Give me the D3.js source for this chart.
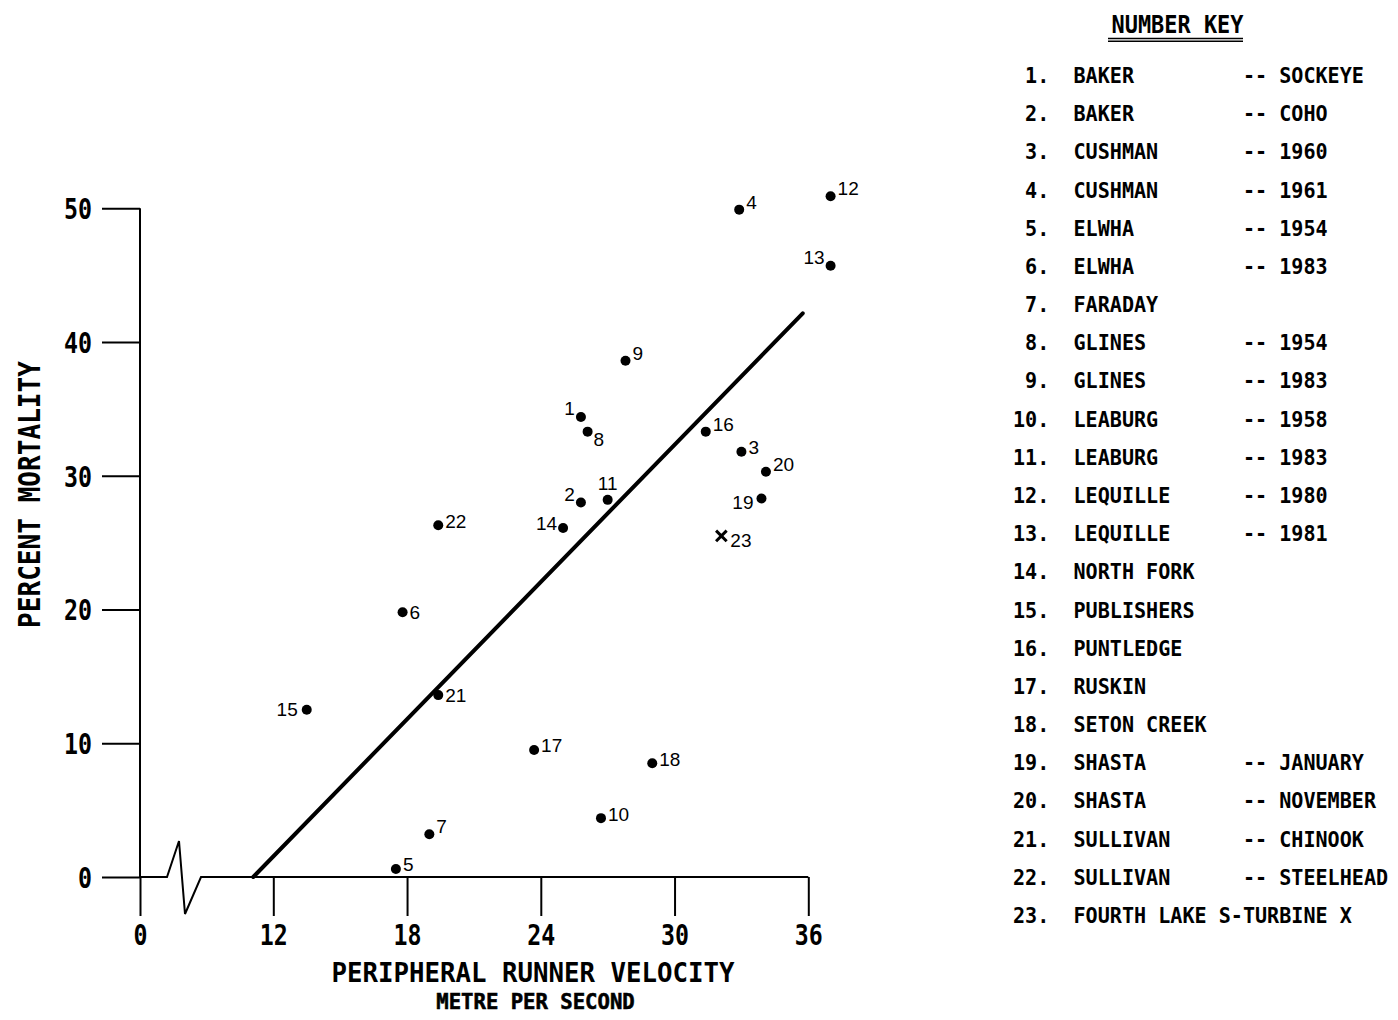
<!DOCTYPE html>
<html>
<head>
<meta charset="utf-8">
<script src="https://cdn.jsdelivr.net/npm/d3@7"></script>
<style>
  body { margin: 0; background: #fff; }
  svg { display: block; }
  .plot { font-family: "DejaVu Sans Mono", monospace; font-weight: bold; fill: #000; }
  .lbl { font-family: "Liberation Sans", Arial, sans-serif; font-size: 19px; fill: #000; }
</style>
</head>
<body>
<svg width="1398" height="1020"></svg>
<script>
// site number, runner velocity (m/s), percent mortality
var siteIds = [1, 2, 3, 4, 5, 6, 7, 8, 9, 10, 11, 12, 13, 14, 15, 16, 17, 18, 19, 20, 21, 22, 23];
var velocity = [25.8, 25.8, 33.0, 32.9, 17.5, 17.8, 19.0, 26.1, 27.8, 26.7, 27.0, 37.0, 37.0, 25.0, 13.5, 31.4, 23.7, 29.0, 33.9, 34.1, 19.4, 19.4, 32.1];
var mortality = [34.4, 28.0, 31.8, 49.9, 0.6, 19.8, 3.2, 33.3, 38.6, 4.4, 28.2, 50.9, 45.7, 26.1, 12.5, 33.3, 9.5, 8.5, 28.3, 30.3, 13.6, 26.3, 25.5];
var markers = ["dot", "dot", "dot", "dot", "dot", "dot", "dot", "dot", "dot", "dot", "dot", "dot", "dot", "dot", "dot", "dot", "dot", "dot", "dot", "dot", "dot", "dot", "x"];

// fitted line end points
var fitVelocity = [11.1, 35.75];
var fitMortality = [0, 42.15];

var xTicks = [0, 12, 18, 24, 30, 36];
var yTicks = [0, 10, 20, 30, 40, 50];

var plantNames = ["BAKER", "BAKER", "CUSHMAN", "CUSHMAN", "ELWHA", "ELWHA", "FARADAY", "GLINES", "GLINES", "LEABURG", "LEABURG", "LEQUILLE", "LEQUILLE", "NORTH FORK", "PUBLISHERS", "PUNTLEDGE", "RUSKIN", "SETON CREEK", "SHASTA", "SHASTA", "SULLIVAN", "SULLIVAN", "FOURTH LAKE S-TURBINE X"];
var plantNotes = ["SOCKEYE", "COHO", "1960", "1961", "1954", "1983", "", "1954", "1983", "1958", "1983", "1980", "1981", "", "", "", "", "", "JANUARY", "NOVEMBER", "CHINOOK", "STEELHEAD", ""];

// where each number sits next to its point (default: right)
var labelSide = {1: "ul", 2: "ul", 4: "ur", 6: "r0", 7: "ur", 8: "dr", 9: "ur", 11: "u", 12: "ur",
                 13: "ul", 14: "l", 15: "l0", 16: "ur", 19: "dl", 20: "ur", 21: "r0", 23: "xr"};
var sideOffset = {
  r:  [7, 2.5, "start"], ur: [7, -1, "start"], r0: [7, 6.5, "start"],
  l:  [-6, 2.5, "end"], ul: [-6, -1.5, "end"], l0: [-9, 6, "end"], dl: [-8, 10.5, "end"],
  u:  [0, -10, "middle"], dr: [6, 14.5, "start"], xr: [9, 11.5, "start"]
};

var svg = d3.select("svg");

var y0 = 877;
var y = d3.scaleLinear().domain([0, 50]).range([y0, 208.3]);
var x = d3.scaleLinear().domain([12, 36]).range([273.3, 808.3]);
// axis scale with the broken stretch between 0 and 12
var xAxisScale = d3.scaleLinear().domain([0, 12, 36]).range([140, 273.3, 808.3]);

// squeeze the plotter lettering to its measured width
function squeeze(sel, charW) {
  sel.each(function() {
    var t = d3.select(this);
    t.attr("textLength", t.text().length * charW).attr("lengthAdjust", "spacingAndGlyphs");
  });
}

// y axis
var gy = svg.append("g")
    .attr("transform", "translate(" + xAxisScale(0) + ",0)")
    .call(d3.axisLeft(y).tickValues(yTicks).tickSize(38).tickSizeOuter(0).tickPadding(10));
gy.select(".domain").remove();
gy.selectAll(".tick line").attr("stroke", "#000").attr("stroke-width", 2);
gy.selectAll(".tick text")
    .attr("class", "plot")
    .style("font-size", "29px")
    .attr("dy", "0.36em")
    .call(squeeze, 14);

svg.append("line")
    .attr("x1", xAxisScale(0)).attr("x2", xAxisScale(0))
    .attr("y1", y(50)).attr("y2", y0)
    .attr("stroke", "#000").attr("stroke-width", 2);

// x axis
var gx = svg.append("g")
    .attr("transform", "translate(0," + y0 + ")")
    .call(d3.axisBottom(xAxisScale).tickValues(xTicks).tickSize(39).tickSizeOuter(0).tickPadding(8));
gx.select(".domain").remove();
gx.selectAll(".tick line").attr("stroke", "#000").attr("stroke-width", 2);
gx.selectAll(".tick text")
    .attr("class", "plot")
    .style("font-size", "29px")
    .call(squeeze, 14);

// axis line with the zig-zag break
var bx = xAxisScale(0);
gx.append("path")
    .attr("d", d3.line()([[bx, 0], [bx + 27, 0], [bx + 39, -36], [bx + 45, 37], [bx + 61, 0], [xAxisScale(36), 0]]))
    .attr("fill", "none")
    .attr("stroke", "#000")
    .attr("stroke-width", 2)
    .attr("stroke-linejoin", "miter");

// axis titles
svg.append("text")
    .attr("class", "plot")
    .attr("x", 533).attr("y", 982)
    .attr("text-anchor", "middle")
    .style("font-size", "26.5px")
    .text("PERIPHERAL RUNNER VELOCITY")
    .call(squeeze, 15.5);

svg.append("text")
    .attr("class", "plot")
    .attr("x", 535.5).attr("y", 1009)
    .attr("text-anchor", "middle")
    .style("font-size", "22px")
    .style("stroke", "#000").style("stroke-width", 0.6)
    .text("METRE PER SECOND")
    .call(squeeze, 12.4);

svg.append("text")
    .attr("class", "plot")
    .attr("transform", "translate(40,494.5) rotate(-90)")
    .attr("text-anchor", "middle")
    .style("font-size", "29.5px")
    .text("PERCENT MORTALITY")
    .call(squeeze, 15.7);

// fitted line
svg.append("path")
    .datum(d3.zip(fitVelocity, fitMortality))
    .attr("fill", "none")
    .attr("stroke", "#000")
    .attr("stroke-width", 4)
    .attr("stroke-linecap", "round")
    .attr("d", d3.line().x(function(d) { return x(d[0]); }).y(function(d) { return y(d[1]); }));

// points
var pts = siteIds.map(function(id, i) {
  return {id: id, v: velocity[i], m: mortality[i], marker: markers[i]};
});

var pg = svg.append("g");
pg.selectAll("circle")
    .data(pts.filter(function(d) { return d.marker === "dot"; }))
  .enter().append("circle")
    .attr("cx", function(d) { return x(d.v); })
    .attr("cy", function(d) { return y(d.m); })
    .attr("r", 5)
    .attr("fill", "#000");

pg.selectAll("path.xmark")
    .data(pts.filter(function(d) { return d.marker === "x"; }))
  .enter().append("path")
    .attr("class", "xmark")
    .attr("transform", function(d) { return "translate(" + x(d.v) + "," + y(d.m) + ")"; })
    .attr("d", d3.symbol().type(d3.symbolX).size(75))
    .attr("fill", "none")
    .attr("stroke", "#000")
    .attr("stroke-width", 3);

pg.selectAll("text")
    .data(pts)
  .enter().append("text")
    .attr("class", "lbl")
    .attr("x", function(d) { return x(d.v) + sideOffset[labelSide[d.id] || "r"][0]; })
    .attr("y", function(d) { return y(d.m) + sideOffset[labelSide[d.id] || "r"][1]; })
    .attr("text-anchor", function(d) { return sideOffset[labelSide[d.id] || "r"][2]; })
    .text(function(d) { return d.id; });

// number key
var col0 = 1013, colW = 12.1, rowTop = 83, rowH = 38.18;

svg.append("text")
    .attr("class", "plot")
    .attr("x", 1177.5).attr("y", 33)
    .attr("text-anchor", "middle")
    .style("font-size", "24.5px")
    .text("NUMBER KEY")
    .call(squeeze, 13.2);
[38.5, 41.2].forEach(function(uy) {
  svg.append("line")
      .attr("x1", 1108).attr("x2", 1243)
      .attr("y1", uy).attr("y2", uy)
      .attr("stroke", "#000").attr("stroke-width", 1.6);
});

var rows = svg.append("g").selectAll("g")
    .data(siteIds)
  .enter().append("g")
    .attr("transform", function(d, i) { return "translate(0," + (rowTop + i * rowH) + ")"; });

rows.append("text")
    .attr("class", "plot")
    .attr("x", col0 + 3 * colW)
    .attr("text-anchor", "end")
    .style("font-size", "21.3px")
    .text(function(d) { return d + "."; })
    .call(squeeze, colW);

rows.append("text")
    .attr("class", "plot")
    .attr("x", col0 + 5 * colW)
    .style("font-size", "21.3px")
    .text(function(d, i) { return plantNames[i]; })
    .call(squeeze, colW);

rows.filter(function(d, i) { return plantNotes[i] !== ""; })
  .append("text")
    .attr("class", "plot")
    .attr("x", col0 + 19 * colW)
    .style("font-size", "21.3px")
    .text("--")
    .call(squeeze, colW);

rows.filter(function(d, i) { return plantNotes[i] !== ""; })
  .append("text")
    .attr("class", "plot")
    .attr("x", col0 + 22 * colW)
    .style("font-size", "21.3px")
    .text(function(d) { return plantNotes[d - 1]; })
    .call(squeeze, colW);
</script>
</body>
</html>
